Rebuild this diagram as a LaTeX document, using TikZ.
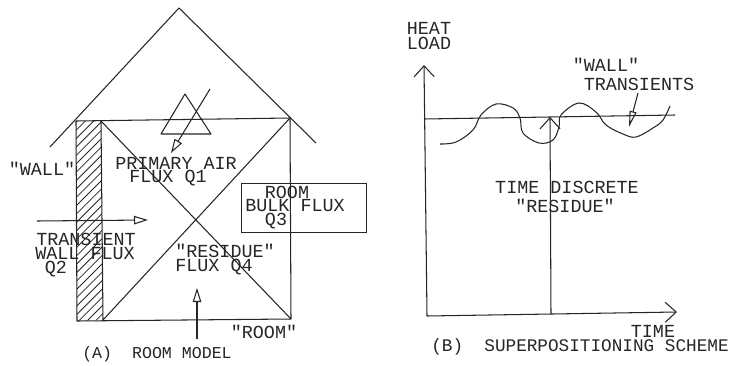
\documentclass[tikz,border=0pt]{standalone}
\usepackage{fontspec}
\newfontfamily\plotfont{Liberation Mono}
\usetikzlibrary{arrows.meta}
\tikzset{
  ink/.style={draw=black!85,line width=1.05pt,line join=round},
  lbl/.style={inner sep=0pt,text=black!85,font=\plotfont\fontsize{18.4}{20}\selectfont},
  caption a/.style={inner sep=0pt,text=black!85,font=\plotfont\fontsize{16.6}{20}\selectfont},
  caption b/.style={inner sep=0pt,text=black!85,font=\plotfont\fontsize{17.7}{20}\selectfont},
  headtri/.style={-{Triangle[open,length=14pt,width=8.5pt,line width=1.05pt]}},
  headopen/.style={-{Straight Barb[length=11pt,width=20pt,line width=1.05pt]}}
}
\begin{document}
\begin{tikzpicture}[x=1pt,y=-1pt]
\useasboundingbox[fill=white] (0,0) rectangle (732,365);
% --- panel A
\coordinate (roofL) at (50,147);
\coordinate (apex) at (179,8);
\coordinate (roofR) at (316,143);
\coordinate (tl) at (76,121);
\coordinate (wt) at (101,121);
\coordinate (tr) at (290,118);
\coordinate (br) at (291,319);
\coordinate (wb) at (103,320);
\coordinate (bl) at (77,321);
\draw[ink] (roofL) -- (apex) -- (roofR);
\begin{scope}
\clip (tl) -- (wt) -- (wb) -- (bl) -- cycle;
\foreach \k in {0,1,...,30}{
  \draw[draw=black!85,line width=0.8pt] (70,{128+\k*8.4}) -- (110,{128+\k*8.4-40});
}
\end{scope}
\draw[ink] (tl) -- (tr) -- (br) -- (bl) -- cycle;
\draw[ink] (wt) -- (wb);
\draw[ink] (wt) -- (br);
\draw[ink] (wb) -- (tr);
\coordinate (t1) at (185,94);
\coordinate (t2) at (161,134);
\coordinate (t3) at (211,134);
\draw[ink] (t1) -- (t2) -- (t3) -- cycle;
\coordinate (a1s) at (210,89);
\coordinate (a1e) at (171,153);
\draw[ink,headtri] (a1s) -- (a1e);
\node[draw=black!85,line width=1.05pt,minimum width=125pt,minimum height=49pt,inner sep=0pt,anchor=north west] (bulk) at (241,183) {};
\coordinate (a2s) at (37,221);
\coordinate (a2e) at (148,220);
\draw[ink,headtri] (a2s) -- (a2e);
\coordinate (a3s) at (197,339);
\coordinate (a3e) at (197,288);
\draw[ink,headtri] (a3s) -- (a3e);
\node[lbl] (wall) at (42,169) {"WALL"};
\node[lbl] (pa) at (176,163) {PRIMARY AIR};
\node[lbl] (q1) at (168,178) {FLUX Q1};
\node[lbl] (rm) at (287,192) {ROOM};
\node[lbl] (bf) at (295,206) {BULK FLUX};
\node[lbl] (q3) at (276,221) {Q3};
\node[lbl] (tr1) at (86,239) {TRANSIENT};
\node[lbl] (wf) at (85,254) {WALL FLUX};
\node[lbl] (q2) at (56,269) {Q2};
\node[lbl] (res) at (225,251) {"RESIDUE"};
\node[lbl] (q4) at (214,267) {FLUX Q4};
\node[lbl] (room) at (264,332) {"ROOM"};
\node[caption a] (capa) at (157,354) {(A)~~ROOM MODEL};
% --- panel B
\coordinate (o) at (427,316);
\coordinate (ytop) at (424,65);
\coordinate (xend) at (677,312);
\coordinate (l1) at (424,119);
\coordinate (l2) at (675,115);
\coordinate (v1) at (551,314);
\coordinate (v2) at (550,117);
\draw[ink,headopen] (o) -- (ytop);
\draw[ink,headopen] (o) -- (xend);
\draw[ink] (l1) -- (l2);
\draw[ink,headopen] (v1) -- (v2);
\draw[ink] plot[smooth,tension=0.6] coordinates {
 (440,144) (456,142) (473,130) (481,115) (496,104) (513,108) (520,118)
 (523,133) (539,143) (553,140) (559,127) (561,115) (579,103) (596,112)
 (606,125) (623,134) (636,137) (653,128) (663,120) (670,106)};
\coordinate (a4s) at (638,93);
\coordinate (a4e) at (629,127);
\draw[ink,-{Triangle[open,length=16pt,width=7pt,line width=1.05pt]}] (a4s) -- (a4e);
\node[lbl] (heat) at (429,28) {HEAT};
\node[lbl] (load) at (429,43) {LOAD};
\node[lbl] (wt2) at (606,65) {"WALL"};
\node[lbl] (trs) at (639,84) {TRANSIENTS};
\node[lbl] (td) at (567,187) {TIME DISCRETE};
\node[lbl] (rs2) at (565,206) {"RESIDUE"};
\node[lbl] (time) at (653,331) {TIME};
\node[caption b] (capb) at (580,347) {(B)~~SUPERPOSITIONING SCHEME};
\end{tikzpicture}
\end{document}
